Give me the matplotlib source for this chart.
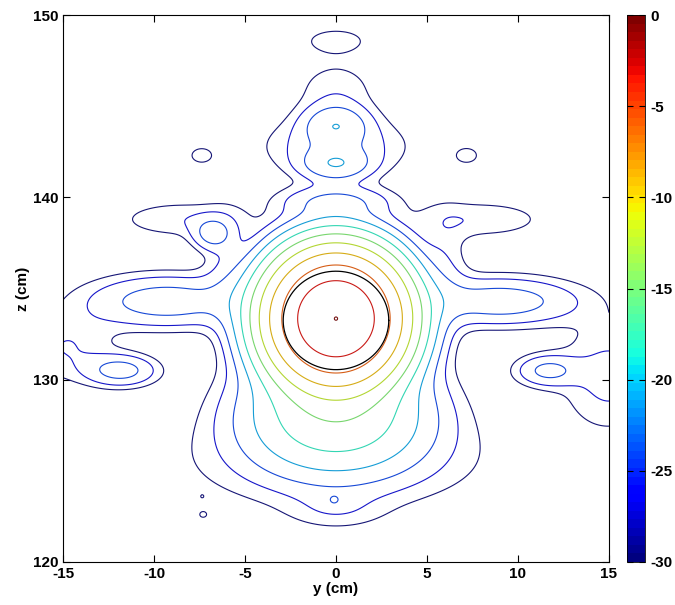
import numpy as np
import matplotlib
matplotlib.use('Agg')
import matplotlib.pyplot as plt
import matplotlib.colors as mcolors

# beam pattern model: lobes as gaussian blobs (dB peak)
blob_y = [0.0, 0.0, 0.0, 0.0, 0.0,
          0.0, 0.0, 0.0, 0.0, 0.0,
          -9.3, -6.8, -8.5, -11.8, -14.8, -6.0,
          9.0, 11.6, 8.0, 15.0, 6.0,
          -7.4, 7.2, -0.1, -7.3, -7.35]
blob_z = [133.35, 128.0, 125.5, 122.8, 139.8,
          144.0, 141.8, 148.6, 145.9, 142.8,
          134.3, 138.0, 138.8, 130.5, 131.8, 136.0,
          134.3, 130.5, 138.8, 130.2, 136.0,
          142.3, 142.3, 123.4, 122.6, 123.6]
blob_sy = [2.53, 4.0, 8.0, 2.5, 2.8,
           1.6, 1.7, 2.0, 2.2, 3.5,
           4.0, 1.0, 3.5, 1.8, 2.5, 1.2,
           4.0, 1.6, 3.5, 2.5, 1.2,
           1.0, 1.0, 0.3, 0.3, 0.1]
blob_sz = [2.5, 2.5, 2.5, 1.0, 0.8,
           1.0, 0.8, 0.8, 1.6, 1.5,
           1.3, 0.8, 1.0, 0.8, 1.8, 3.0,
           1.2, 0.8, 1.0, 2.8, 3.0,
           0.7, 0.7, 0.25, 0.25, 0.1]
blob_db = [0.005, -16.0, -27.0, -29.0, -24.0,
           -22.3, -22.1, -28.4, -28.0, -25.0,
           -22.5, -23.5, -27.5, -23.0, -27.0, -28.0,
           -22.5, -23.5, -27.5, -26.0, -28.0,
           -29.0, -29.0, -26.8, -29.5, -29.9]

levels = list(range(-30, 1, 3))
ring_y, ring_z = 0.0, 133.25
ring_ry, ring_rz = 2.9, 2.7

y = np.linspace(-15, 15, 481)
z = np.linspace(120, 150, 481)
Y, Z = np.meshgrid(y, z)
P = np.full(Y.shape, 1e-5)
for by, bz, sy, sz, db in zip(blob_y, blob_z, blob_sy, blob_sz, blob_db):
    P += 10 ** (db / 10) * np.exp(-((Y - by) / sy) ** 2 - ((Z - bz) / sz) ** 2)
F = 10 * np.log10(P)

plt.rcParams['font.family'] = 'Liberation Sans'
plt.rcParams['font.weight'] = 'bold'
plt.rcParams['axes.unicode_minus'] = False

cmap = plt.get_cmap('jet', 64)
norm = mcolors.Normalize(-30, 0)
# thin lines in the original look a bit washed out, so mute them towards grey
line_colors = [0.75 * np.array(cmap(norm(l))[:3]) + 0.25 * 0.35 for l in levels]

fig = plt.figure(figsize=(6.75, 6.05), dpi=100)
ax = fig.add_axes([0.0933, 0.0711, 0.8089, 0.904])
ax.contour(Y, Z, F, levels=levels, colors=line_colors, linewidths=0.8)

t = np.linspace(0, 2 * np.pi, 200)
ax.plot(ring_y + ring_ry * np.cos(t), ring_z + ring_rz * np.sin(t), color='black', lw=0.9)

ax.set_xlim(-15, 15)
ax.set_ylim(120, 150)
ax.set_xticks([-15, -10, -5, 0, 5, 10, 15])
ax.set_yticks([120, 130, 140, 150])
ax.tick_params(direction='in', top=True, right=True, labelsize=11, length=5)
ax.set_xlabel('y (cm)', fontsize=11, fontweight='bold', labelpad=1)
ax.set_ylabel('z (cm)', fontsize=11, fontweight='bold', labelpad=2)

cax = fig.add_axes([0.9289, 0.0711, 0.0267, 0.904])
cb = matplotlib.colorbar.ColorbarBase(cax, cmap=cmap, norm=norm, ticks=[-30, -25, -20, -15, -10, -5, 0])
cb.outline.set_linewidth(0.6)
cax.tick_params(direction='in', labelsize=11, length=4, left=True, right=True)

fig.savefig('out.png', dpi=100)
